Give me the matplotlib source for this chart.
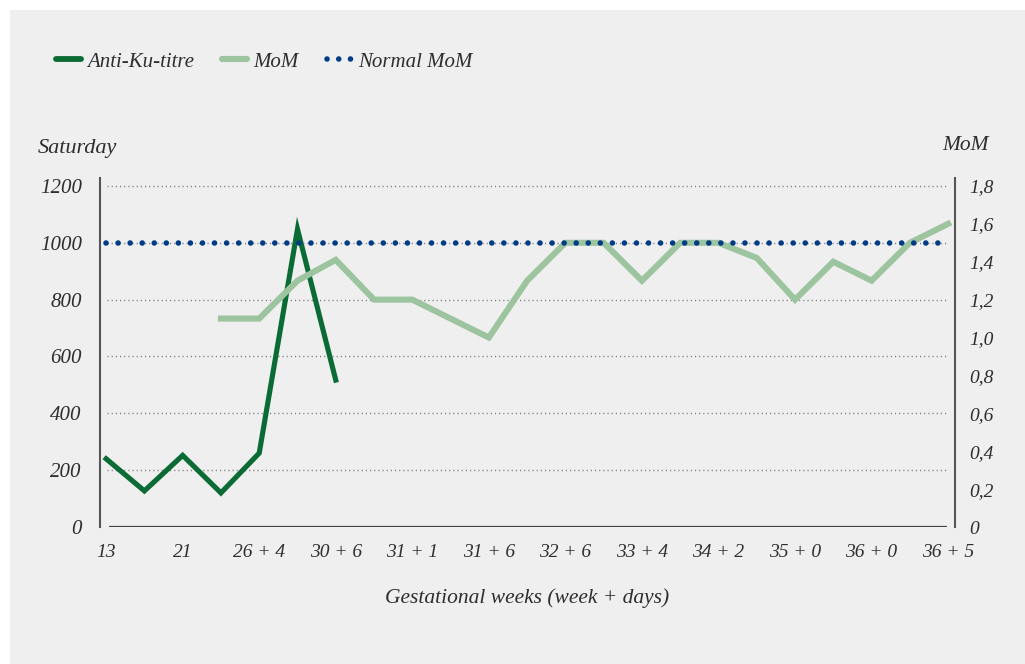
import numpy as np
import matplotlib.pyplot as plt
from matplotlib.lines import Line2D
from matplotlib.patches import Rectangle

# one point every half step, tick labels on every second point
tick_labels = ["13", "21", "26 + 4", "30 + 6", "31 + 1", "31 + 6", "32 + 6",
               "33 + 4", "34 + 2", "35 + 0", "36 + 0", "36 + 5"]
anti_ku = [240, 127, 252, 120, 260, 1048, 517]
mom = [np.nan, np.nan, np.nan, 1.1, 1.1, 1.3, 1.41, 1.2, 1.2, 1.1, 1.0, 1.3,
       1.5, 1.5, 1.3, 1.5, 1.5, 1.42, 1.2, 1.4, 1.3, 1.5, 1.6]
normal_mom = 1.5

n = len(mom)
x = np.arange(n)

plt.rcParams['font.family'] = ['Liberation Serif', 'DejaVu Serif']
plt.rcParams['font.style'] = 'italic'
txt = '#2e2e2e'

fig = plt.figure(figsize=(10.25, 6.64), dpi=100)
fig.patches.append(Rectangle((10 / 1025, 0), 1, 1 - 10 / 664, transform=fig.transFigure,
                             facecolor='#efefef', edgecolor='none', zorder=-10))

ax = fig.add_axes([100 / 1025, 1 - 527 / 664, 855 / 1025, 349 / 664])
ax.patch.set_alpha(0)
ax2 = ax.twinx()

ymax = 1228
ax.set_ylim(0, ymax)
ax2.set_ylim(0, 1.8 * ymax / 1200)
ax.set_xlim(-0.16, n - 1 + 0.18)

# gridlines and baseline
for g in range(200, 1201, 200):
    ax.hlines(g, 0.03, n - 1.05, colors='#777777', linestyles=(0, (0.8, 2.2)), lw=1.0, zorder=1)
ax.hlines(0, 0.08, n - 1.04, colors='#444444', lw=1.6, zorder=2)

ax.plot(x[:len(anti_ku)], anti_ku, color='#0b6b35', lw=3.7, zorder=4,
        solid_joinstyle='miter')
ax2.plot(x, mom, color='#9cc49f', lw=4.4, zorder=3, solid_joinstyle='miter')
ax2.hlines(normal_mom, 0, n - 1, colors='#003c86', lw=4.0,
           linestyles=(0, (0.01, 2.16)), capstyle='round', zorder=5)

for a in (ax, ax2):
    for s in ('top', 'bottom'):
        a.spines[s].set_visible(False)
    a.tick_params(length=0, labelsize=14, labelcolor=txt)
ax2.spines['left'].set_visible(False)
ax.spines['right'].set_visible(False)
ax.spines['left'].set_color('#555555')
ax.spines['left'].set_linewidth(1.5)
ax2.spines['right'].set_color('#555555')
ax2.spines['right'].set_linewidth(1.5)

ax.set_yticks(range(0, 1201, 200))
ax.tick_params(axis='y', pad=13, labelsize=15)
ax2.set_yticks(np.arange(0, 1.81, 0.2))
ax2.set_yticklabels(["0"] + [f"{v:.1f}".replace('.', ',') for v in np.arange(0.2, 1.81, 0.2)])
ax2.tick_params(axis='y', pad=10)

ax.set_xticks(x[::2])
ax.set_xticklabels(tick_labels)
ax.tick_params(axis='x', pad=12)

ax.set_xlabel("Gestational weeks (week + days)", fontsize=15.5, color=txt, labelpad=20)
fig.text(38 / 1025, 1 - 149 / 664, "Saturday", fontsize=16, color=txt, va='center')
fig.text(989 / 1025, 1 - 145 / 664, "MoM", fontsize=15.5, color=txt, va='center', ha='right')

handles = [
    Line2D([], [], color='#0b6b35', lw=4.2, solid_capstyle='round'),
    Line2D([], [], color='#9cc49f', lw=4.4, solid_capstyle='round'),
    Line2D([], [], color='#003c86', lw=4.0, linestyle=(0, (0.01, 2.1)),
           dash_capstyle='round'),
]
fig.legend(handles, ["Anti-Ku-titre", "MoM", "Normal MoM"], loc='center left',
           bbox_to_anchor=(37 / 1025, 1 - 62 / 664), ncol=3, frameon=False,
           fontsize=15, handlelength=1.2, handletextpad=0.3, columnspacing=1.35,
           labelcolor=txt)

fig.savefig('out.png', dpi=100)
